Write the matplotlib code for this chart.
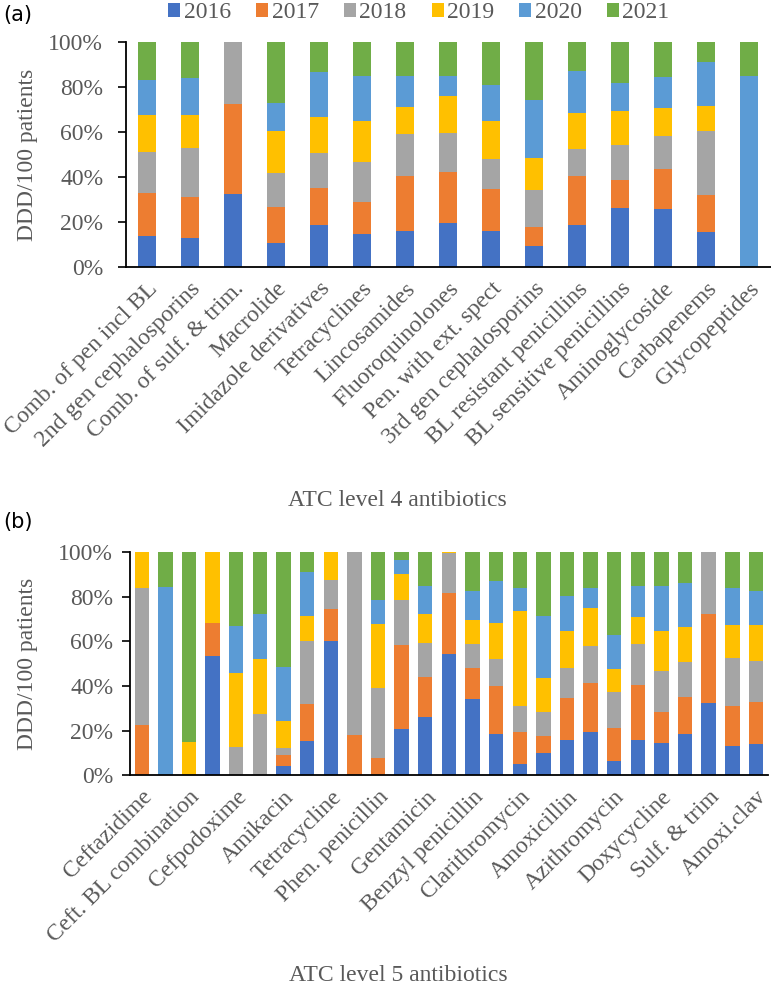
import matplotlib
matplotlib.use("Agg")
import matplotlib.pyplot as plt
import numpy as np
from matplotlib.ticker import FuncFormatter

plt.rcParams["font.family"] = ["Liberation Serif", "DejaVu Serif"]

years = ["2016", "2017", "2018", "2019", "2020", "2021"]
colors = ["#4472C4", "#ED7D31", "#A5A5A5", "#FFC000", "#5B9BD5", "#70AD47"]

# Panel (a): ATC level 4
cats_a = ["Comb. of pen incl BL", "2nd gen cephalosporins", "Comb. of sulf. & trim.",
          "Macrolide", "Imidazole derivatives", "Tetracyclines", "Lincosamides",
          "Fluoroquinolones", "Pen. with ext. spect", "3rd gen cephalosporins",
          "BL resistant penicillins", "BL sensitive penicillins", "Aminoglycoside",
          "Carbapenems", "Glycopeptides"]
a_2016 = [14.0, 13.1, 32.5, 10.9, 18.8, 14.9, 16.1, 19.6, 16.1, 9.3, 18.6, 26.3, 25.8, 15.7, 0]
a_2017 = [18.8, 18.2, 40.0, 16.0, 16.4, 13.9, 24.5, 22.8, 18.5, 8.7, 21.7, 12.3, 17.6, 16.5, 0]
a_2018 = [18.3, 21.6, 27.5, 15.0, 15.6, 18.0, 18.3, 17.0, 13.4, 16.1, 12.0, 15.5, 14.7, 28.4, 0]
a_2019 = [16.4, 14.5, 0, 18.4, 15.7, 18.2, 12.0, 16.7, 16.7, 14.2, 16.1, 15.0, 12.7, 10.9, 0]
a_2020 = [15.5, 16.4, 0, 12.5, 19.9, 19.9, 14.0, 8.8, 16.0, 25.7, 18.7, 12.7, 13.4, 19.6, 84.6]
a_2021 = [17.0, 16.2, 0, 27.2, 13.6, 15.1, 15.1, 15.1, 19.3, 26.0, 12.9, 18.2, 15.8, 8.9, 15.4]

# Panel (b): ATC level 5 (27 bars, only every other label shown in original)
cats_b = ["Ceftazidime", "", "Ceft. BL combination", "", "Cefpodoxime", "", "Amikacin", "",
          "Tetracycline", "", "Phen. penicillin", "", "Gentamicin", "", "Benzyl penicillin", "",
          "Clarithromycin", "", "Amoxicillin", "", "Azithromycin", "", "Doxycycline", "",
          "Sulf. & trim", "", "Amoxi.clav"]
b_2016 = [0, 0, 0, 53.7, 0, 0, 4.2, 15.5, 60.4, 0, 0, 20.8, 26.3, 54.4, 34.4, 18.5, 5.1, 10.0,
          15.8, 19.4, 6.4, 15.8, 14.5, 18.7, 32.3, 13.0, 14.1]
b_2017 = [22.6, 0, 0, 14.6, 0, 0, 4.9, 16.6, 14.2, 17.9, 7.8, 37.5, 17.9, 27.4, 13.7, 21.7, 14.3, 7.6,
          18.9, 22.0, 15.0, 24.9, 13.9, 16.3, 40.2, 18.2, 18.6]
b_2018 = [61.6, 0, 0, 0, 12.7, 27.4, 3.0, 28.3, 13.0, 82.1, 31.5, 20.3, 15.1, 17.8, 10.6, 12.0, 11.7, 11.0,
          13.3, 16.6, 16.1, 18.2, 18.2, 15.8, 27.5, 21.6, 18.4]
b_2019 = [15.8, 0, 14.8, 31.7, 33.3, 24.6, 12.1, 11.0, 12.4, 0, 28.6, 11.8, 12.9, 0.4, 10.8, 16.1, 42.4, 15.2,
          16.7, 17.0, 10.2, 12.0, 18.1, 15.6, 0, 14.5, 16.5]
b_2020 = [0, 84.6, 0, 0, 21.1, 20.5, 24.4, 19.8, 0, 0, 10.9, 6.2, 12.9, 0, 13.2, 18.7, 10.7, 27.6,
          15.9, 9.2, 15.4, 14.2, 20.2, 19.7, 0, 16.6, 15.2]
b_2021 = [0, 15.4, 85.2, 0, 32.9, 27.5, 51.4, 8.8, 0, 0, 21.2, 3.4, 14.9, 0, 17.3, 13.0, 15.8, 28.6,
          19.4, 15.8, 36.9, 14.9, 15.1, 13.9, 0, 16.1, 17.2]

GRAY = "#595959"
FS = 17

fig = plt.figure(figsize=(7.71, 9.88), dpi=100)

def draw(ax, cats, series, width, ypad):
    x = np.arange(len(cats))
    bottom = np.zeros(len(cats))
    for vals, c, y in zip(series, colors, years):
        v = np.array(vals) / 100.0
        ax.bar(x, v, width, bottom=bottom, color=c, label=y, linewidth=0)
        bottom += v
    ax.set_xlim(-0.5, len(cats) - 0.5)
    ax.set_ylim(0, 1)
    ax.set_yticks(np.linspace(0, 1, 6))
    ax.yaxis.set_major_formatter(FuncFormatter(lambda v, p: f"{int(round(v*100))}%"))
    ax.set_xticks(x)
    ax.set_xticklabels(cats, rotation=45, ha="right", rotation_mode="anchor",
                       fontsize=FS, color=GRAY)
    ax.tick_params(axis="x", length=0, pad=8)
    ax.tick_params(axis="y", direction="out", length=6, width=1.2, color="black",
                   labelsize=FS, labelcolor=GRAY, pad=ypad)
    for s in ["top", "right"]:
        ax.spines[s].set_visible(False)
    for s in ["left", "bottom"]:
        ax.spines[s].set_linewidth(1.3)
        ax.spines[s].set_color("black")

pos_a = [0.1628, 0.7295, 0.8366, 0.2283]
pos_b = [0.1685, 0.2153, 0.8273, 0.2257]
ax1 = fig.add_axes(pos_a)
draw(ax1, cats_a, [a_2016, a_2017, a_2018, a_2019, a_2020, a_2021], 0.40, 10)
ax2 = fig.add_axes(pos_b)
draw(ax2, cats_b, [b_2016, b_2017, b_2018, b_2019, b_2020, b_2021], 0.61, 6)

for pos in (pos_a, pos_b):
    fig.text(28 / 771, pos[1] + pos[3] / 2, "DDD/100 patients", fontsize=FS, color=GRAY,
             rotation=90, ha="center", va="center")

fig.text(397 / 771, 1 - 500 / 988, "ATC level 4 antibiotics",
         fontsize=FS, color=GRAY, ha="center", va="center")
fig.text(398 / 771, 1 - 975 / 988, "ATC level 5 antibiotics",
         fontsize=FS, color=GRAY, ha="center", va="center")
fig.text(3 / 771, 1 - 15 / 988, "(a)", fontfamily="DejaVu Sans", fontsize=15,
         color="black", ha="left", va="center")
fig.text(3 / 771, 1 - 522 / 988, "(b)", fontfamily="DejaVu Sans", fontsize=15,
         color="black", ha="left", va="center")

handles, labels = ax1.get_legend_handles_labels()
leg = fig.legend(handles, labels, loc="center", bbox_to_anchor=(419 / 771, 1 - 13 / 988),
                 ncol=6, frameon=False, prop={"size": FS},
                 handlelength=0.5, handleheight=0.5, handletextpad=0.15, columnspacing=1.07,
                 borderaxespad=0)
for t in leg.get_texts():
    t.set_color(GRAY)

fig.savefig("out.png", dpi=100)
